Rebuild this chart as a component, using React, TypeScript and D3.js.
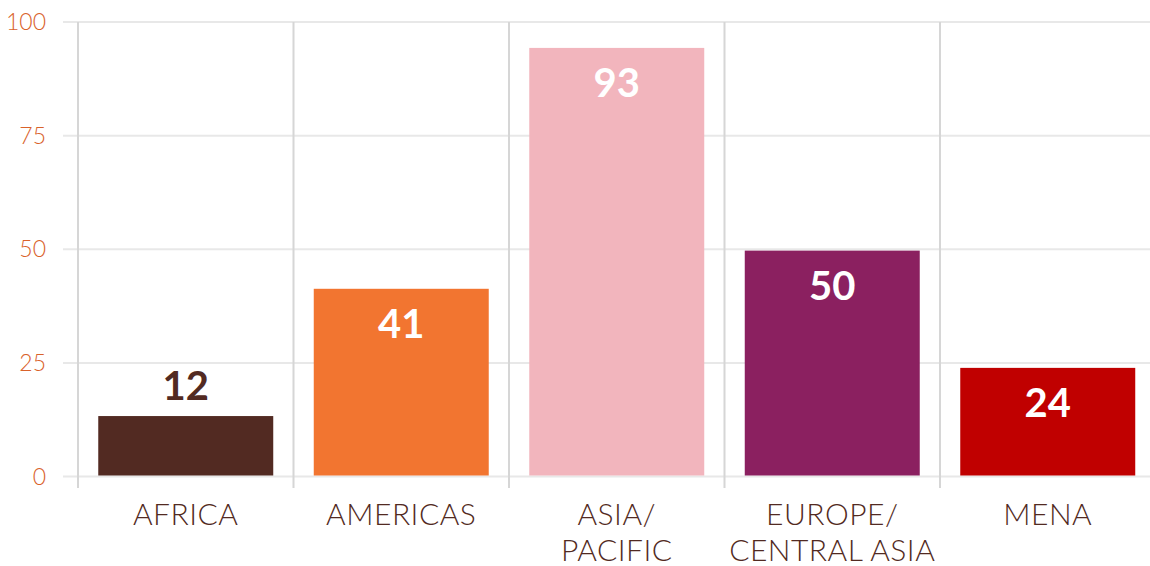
import * as React from "react";
import * as d3 from "d3";

// regions along the x axis (split into lines as printed)
const regions = ["AFRICA", "AMERICAS", "ASIA/\nPACIFIC", "EUROPE/\nCENTRAL ASIA", "MENA"];
// bar heights
const counts = [13.3, 41.3, 94.3, 49.7, 23.9];
// numbers printed on the bars
const countLabels = ["12", "41", "93", "50", "24"];
const barColors = ["#522a22", "#f27530", "#f2b5bd", "#8b2060", "#c00000"];
const yTicks = [0, 25, 50, 75, 100];

const W = 1150, H = 566;
const margin = { top: 22, left: 78, bottom: 90 };

export default function App() {
    const x = d3.scaleBand<string>()
        .domain(regions)
        .range([margin.left, margin.left + 5 * 215.5])
        .paddingInner(0.188)
        .paddingOuter(0.094);
    const y = d3.scaleLinear().domain([0, 100]).range([H - margin.bottom + 0.5, margin.top]);
    const step = x.step();
    const font = "Lato, 'Open Sans', sans-serif";

    return <svg width={W} height={H} style={{ position: "absolute", left: 0, top: 0 }}>
        <rect width={W} height={H} fill="#fff" />
        {/* horizontal grid */}
        {yTicks.map(t =>
            <line key={"h" + t} x1={63} x2={W} y1={y(t)} y2={y(t)} stroke="#e8e8e8" strokeWidth={2} />
        )}
        {/* vertical grid at band edges */}
        {regions.map((r, i) =>
            <line key={"v" + r} x1={margin.left + i * step} x2={margin.left + i * step}
                  y1={margin.top} y2={488} stroke="#d6d6d6" strokeWidth={2} />
        )}
        {yTicks.map(t =>
            <text key={"t" + t} x={46} y={y(t)} dy="0.35em" textAnchor="end" fill="#d9622b"
                  fontFamily={font} fontWeight={300} fontSize={23}>{t}</text>
        )}
        {regions.map((r, i) => {
            const bx = x(r)!, bw = x.bandwidth(), top = y(counts[i]);
            const inside = counts[i] > 20;
            return <g key={r}>
                <rect x={bx} y={top} width={bw} height={y(0) - top - 1} fill={barColors[i]} />
                <text x={bx + bw / 2} y={inside ? top + 49 : top - 16} textAnchor="middle"
                      fill={inside ? "#fff" : "#522a22"} fontFamily={font} fontWeight={700}
                      fontSize={40}>{countLabels[i]}</text>
                {r.split("\n").map((line, j) =>
                    <text key={j} x={bx + bw / 2} y={525 + j * 36} textAnchor="middle" fill="#522a22"
                          fontFamily={font} fontWeight={300} fontSize={30} letterSpacing={0.5}>{line}</text>
                )}
            </g>;
        })}
    </svg>;
}
